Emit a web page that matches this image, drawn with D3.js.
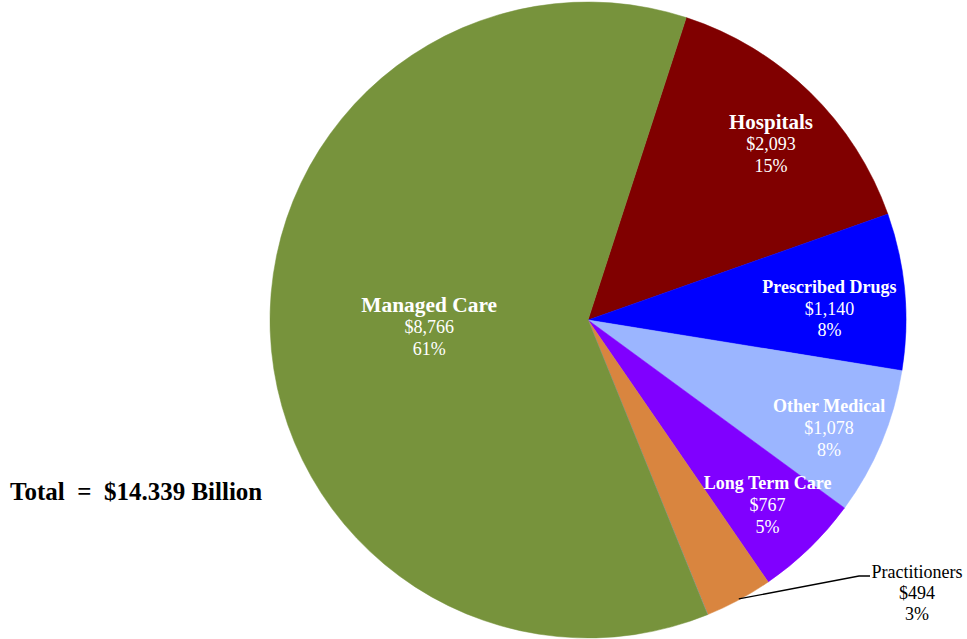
<!DOCTYPE html>
<html>
<head>
<meta charset="utf-8">
<script src="https://cdn.jsdelivr.net/npm/d3@7"></script>
<style>
  html, body { margin: 0; padding: 0; background: #fff; }
  svg { display: block; }
</style>
</head>
<body>
<svg id="chart" width="967" height="639"></svg>
<script>
// ---- data ----
const categories = ["Hospitals", "Prescribed Drugs", "Other Medical", "Long Term Care", "Practitioners", "Other", "Managed Care"];
const values = [2093, 1140, 1078, 767, 494, 1, 8766];
const colors = ["#800000", "#0000FF", "#9BB5FF", "#8000FF", "#D9853F", "#8E9DBA", "#77933C"];
const totalLabel = "Total  =  $14.339 Billion";
const totalValue = 14339;

// ---- layout ----
const W = 967, H = 639;
const cx = 588, cy = 320, R = 318;
const startDeg = 18;
// label placement per category: [radius fraction, angle deg (clockwise from 12 o'clock), name font size]
const labelPlace = {
  "Hospitals": [0.80, 46, 21],
  "Prescribed Drugs": [0.76, 87.2, 18],
  "Other Medical": [0.83, 114, 18],
  "Long Term Care": [0.81, 135.8, 18],
  "Managed Care": [0.50, 267.5, 21.4]
};

const svg = d3.select("#chart");
const g = svg.append("g").attr("transform", `translate(${cx},${cy})`);

const data = categories.map((c, i) => ({ name: c, value: values[i], color: colors[i] }));

const pie = d3.pie().sort(null).value(d => d.value)
  .startAngle(startDeg * Math.PI / 180)
  .endAngle((startDeg + 360) * Math.PI / 180);
const arcs = pie(data);
const arc = d3.arc().innerRadius(0).outerRadius(R);

g.selectAll("path.slice").data(arcs).enter().append("path")
  .attr("class", "slice")
  .attr("d", arc)
  .attr("fill", d => d.data.color)
  .attr("stroke", d => d.data.color)
  .attr("stroke-width", 0.5);

const fmtMoney = d3.format("$,");
const fmtPct = d3.format(".0%");
const font = "'Liberation Serif', 'Times New Roman', serif";

arcs.forEach(a => {
  const p = labelPlace[a.data.name];
  if (!p) return;
  const ang = p[1] * Math.PI / 180;
  const x = p[0] * R * Math.sin(ang);
  const y = -p[0] * R * Math.cos(ang);
  const t = g.append("text")
    .attr("text-anchor", "middle")
    .attr("font-family", font)
    .attr("fill", "#fff");
  t.append("tspan").attr("x", x).attr("y", y - 22).attr("dy", "0.35em")
    .attr("font-weight", "bold").attr("font-size", p[2]).text(a.data.name);
  t.append("tspan").attr("x", x).attr("y", y).attr("dy", "0.35em")
    .attr("font-size", 18).text(fmtMoney(a.data.value));
  t.append("tspan").attr("x", x).attr("y", y + 22).attr("dy", "0.35em")
    .attr("font-size", 18).text(fmtPct(a.data.value / totalValue));
});

// Practitioners: outside label with leader line
const pr = arcs.find(a => a.data.name === "Practitioners");
const mid = (pr.startAngle + pr.endAngle) / 2;
const p0 = [R * Math.sin(mid), -R * Math.cos(mid)];
const lx = 917 - cx, ly = 572 - cy;
g.append("polyline")
  .attr("points", [[p0[0], p0[1] - 1], [lx - 58, ly + 4], [lx - 47, ly + 4]].map(p => p.join(",")).join(" "))
  .attr("fill", "none").attr("stroke", "#000").attr("stroke-width", 1.3);
const pt = g.append("text").attr("text-anchor", "middle")
  .attr("font-family", font).attr("fill", "#000").attr("font-size", 18);
pt.append("tspan").attr("x", lx).attr("y", ly).attr("dy", "0.35em").text(pr.data.name);
pt.append("tspan").attr("x", lx).attr("y", ly + 21).attr("dy", "0.35em").text(fmtMoney(pr.data.value));
pt.append("tspan").attr("x", lx).attr("y", ly + 42).attr("dy", "0.35em").text(fmtPct(pr.data.value / totalValue));

// Total
svg.append("text")
  .attr("x", 10).attr("y", 500)
  .attr("font-family", font).attr("font-weight", "bold").attr("font-size", 25)
  .attr("xml:space", "preserve").style("white-space", "pre")
  .text(totalLabel);
</script>
</body>
</html>
